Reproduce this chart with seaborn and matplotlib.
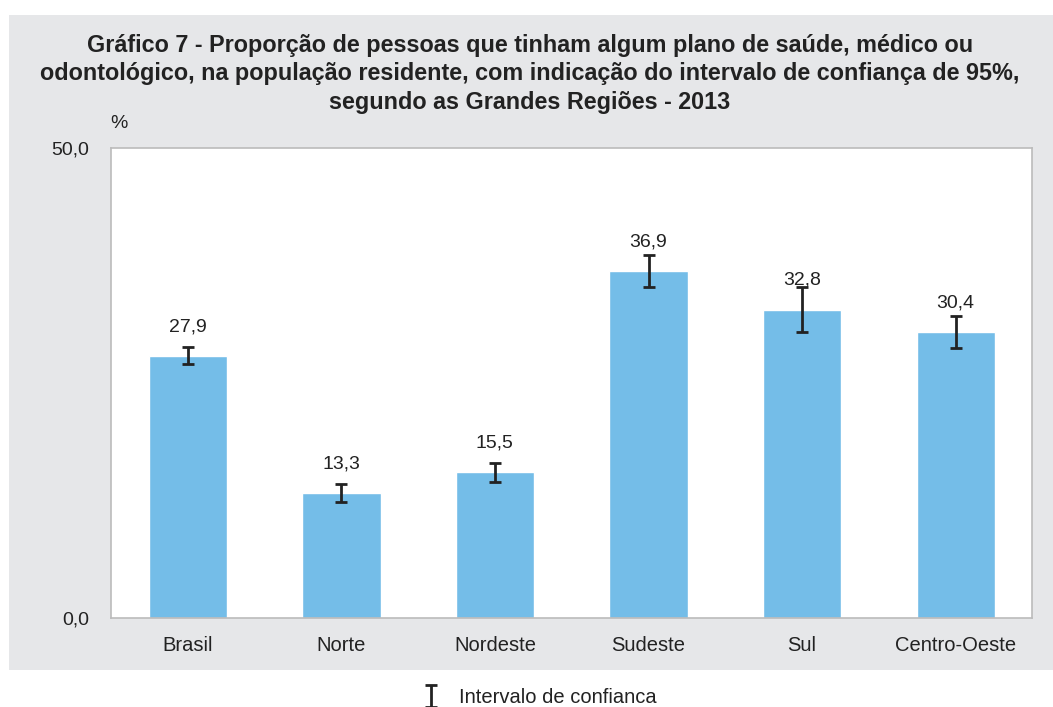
import matplotlib
matplotlib.use("Agg")
import matplotlib.pyplot as plt
import seaborn as sns
import pandas as pd
from matplotlib.patches import Rectangle
from matplotlib.container import ErrorbarContainer
from matplotlib.legend_handler import HandlerErrorbar

regions = ["Brasil", "Norte", "Nordeste", "Sudeste", "Sul", "Centro-Oeste"]
values = [27.9, 13.3, 15.5, 36.9, 32.8, 30.4]
ci_low = [27.0, 12.3, 14.5, 35.2, 30.4, 28.7]
ci_high = [28.8, 14.3, 16.5, 38.6, 35.2, 32.1]
value_labels = ["27,9", "13,3", "15,5", "36,9", "32,8", "30,4"]
ytick_vals = [0, 50]
ytick_labels = ["0,0", "50,0"]
title = ("Gráfico 7 - Proporção de pessoas que tinham algum plano de saúde, médico ou\n"
         "odontológico, na população residente, com indicação do intervalo de confiança de 95%,\n"
         "segundo as Grandes Regiões - 2013")
legend_label = "Intervalo de confianca"

sns.set_theme(style="white")
plt.rcParams["font.family"] = ["Liberation Sans", "DejaVu Sans"]

df = pd.DataFrame({"regiao": regions, "valor": values})

fig = plt.figure(figsize=(10.53, 7.07), dpi=100)
fig.patch.set_facecolor("white")
fig.patches.append(Rectangle((0.0085, 0.0523), 0.9915, 0.9265, transform=fig.transFigure,
                             facecolor="#E6E7E9", edgecolor="none", zorder=-10))

ax = fig.add_axes([0.1054, 0.1259, 0.8751, 0.6648])
ax.set_facecolor("white")
sns.barplot(data=df, x="regiao", y="valor", color="#74BDE8", saturation=1, width=0.51,
            errorbar=None, ax=ax)

yerr_low = [v - lo for v, lo in zip(values, ci_low)]
yerr_high = [hi - v for v, hi in zip(values, ci_high)]
ax.errorbar(range(len(regions)), values, yerr=[yerr_low, yerr_high], fmt="none",
            ecolor="#222222", elinewidth=2, capsize=4.5, capthick=2, label=legend_label, zorder=5)

for i, (v, lab) in enumerate(zip(values, value_labels)):
    ax.annotate(lab, (i, v), xytext=(0, 21), textcoords="offset points",
                ha="center", va="center", fontsize=14, color="#222222")

ax.set_ylim(0, 50)
ax.set_xlim(-0.5, len(regions) - 0.5)
ax.set_yticks(ytick_vals)
ax.set_yticklabels(ytick_labels, fontsize=14, color="#222222")
ax.tick_params(axis="x", labelsize=14.5, colors="#222222", length=0, pad=13)
ax.tick_params(axis="y", length=0, pad=15.5)
ax.set_xlabel("")
ax.set_ylabel("")
for s in ax.spines.values():
    s.set_color("#BBBBBB")
    s.set_linewidth(1.2)
    s.set_visible(True)

fig.text(0.113, 0.826, "%", fontsize=14, ha="center", va="center", color="#222222")

fig.text(0.503, 0.952, title, fontsize=16.8, fontweight="bold", ha="center", va="top",
         linespacing=1.3, color="#222222")

leg = fig.legend(loc="center", bbox_to_anchor=(0.511, 0.0135), frameon=False, fontsize=14.5,
                 handlelength=1.2, handletextpad=0.8, handleheight=0.7,
                 handler_map={ErrorbarContainer: HandlerErrorbar(xerr_size=0.6, yerr_size=0.55)})
for t in leg.get_texts():
    t.set_color("#222222")

fig.savefig("out.png", dpi=100, facecolor=fig.get_facecolor())
